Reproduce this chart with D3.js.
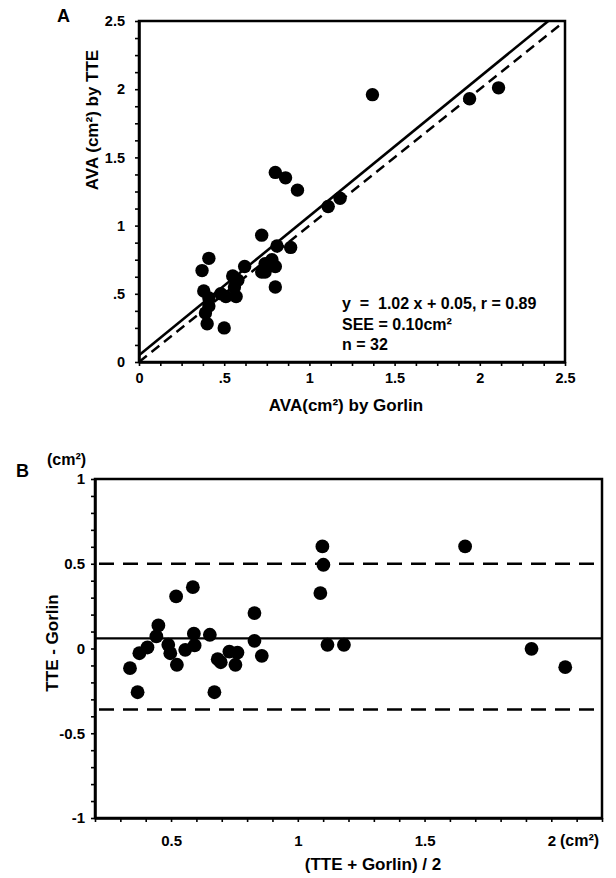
<!DOCTYPE html>
<html><head><meta charset="utf-8">
<script src="https://cdn.jsdelivr.net/npm/d3@7"></script>
<style>
body{margin:0;background:#fff}
svg{display:block}
text{font-family:"Liberation Sans",Arial,Helvetica,sans-serif;font-weight:bold;fill:#000}
</style>
</head><body>
<svg id="c" width="616" height="878"></svg>
<script>
// ---- Panel A data: AVA by Gorlin (x) vs AVA by TTE (y), cm²
const gorlinA = [0.40,0.50,0.39,0.41,0.41,0.38,0.48,0.51,0.57,0.37,0.56,0.41,0.55,0.58,0.62,0.80,0.72,0.74,0.74,0.80,0.78,0.72,0.81,0.89,0.80,0.86,0.93,1.11,1.18,1.37,1.94,2.11];
const tteA    = [0.28,0.25,0.36,0.41,0.47,0.52,0.50,0.48,0.48,0.67,0.55,0.76,0.63,0.60,0.70,0.55,0.66,0.66,0.72,0.70,0.75,0.93,0.85,0.84,1.39,1.35,1.26,1.14,1.20,1.96,1.93,2.01];
const aTickValues = [0,0.5,1,1.5,2,2.5];
const aTickLabels = ["0",".5","1","1.5","2","2.5"];
const regSlope = 1.02, regIntercept = 0.05;
const annotA = ["y  =  1.02 x + 0.05, r = 0.89","SEE = 0.10cm²","n = 32"];

// ---- Panel B data: Bland-Altman
const meanB = [0.338,0.368,0.375,0.407,0.442,0.45,0.489,0.497,0.523,0.52,0.556,0.586,0.59,0.593,0.653,0.671,0.684,0.696,0.73,0.754,0.762,0.829,0.829,0.858,1.097,1.101,1.089,1.117,1.182,1.66,1.922,2.055];
const diffB = [-0.116,-0.258,-0.028,0.006,0.071,0.136,0.022,-0.028,-0.096,0.307,-0.008,0.362,0.087,0.018,0.081,-0.258,-0.063,-0.081,-0.018,-0.096,-0.024,0.209,0.045,-0.043,0.602,0.494,0.327,0.022,0.022,0.602,-0.002,-0.11];
const bXTickValues = [0.5,1,1.5,2];
const bXTickLabels = ["0.5","1","1.5","2"];
const bYTickValues = [-1,-0.5,0,0.5,1];
const bYTickLabels = ["-1","-0.5","0","0.5","1"];
const biasB = 0.06, upperB = 0.50, lowerB = -0.36;

const svg = d3.select("#c");

function fmt(vals, labels){
  return d => { const i = vals.findIndex(v => Math.abs(v-d) < 1e-9); return i < 0 ? "" : labels[i]; };
}
function styleAxis(g, fs){
  g.select(".domain").attr("stroke","#000").attr("stroke-width",2.5);
  g.selectAll(".tick line").attr("stroke","#000").attr("stroke-width",1.6);
  g.selectAll(".tick text").attr("fill","#000").style("font-size",fs+"px").style("font-family",'"Liberation Sans",Arial,sans-serif').style("font-weight","bold");
}

// ================= Panel A =================
const xA = d3.scaleLinear().domain([0,2.5]).range([139,565]);
const yA = d3.scaleLinear().domain([0,2.5]).range([362,21]);

svg.append("rect").attr("x",xA(0)).attr("y",yA(2.5)).attr("width",xA(2.5)-xA(0)).attr("height",yA(0)-yA(2.5))
  .attr("fill","none").attr("stroke","#000").attr("stroke-width",2.5);

svg.append("g").attr("transform",`translate(0,${yA(0)})`)
  .call(d3.axisBottom(xA).tickValues(d3.range(0,2.5001,0.125)).tickFormat(fmt(aTickValues,aTickLabels)).tickSize(4).tickSizeOuter(0).tickPadding(7))
  .call(g => styleAxis(g,14.5));
svg.append("g").attr("transform",`translate(${xA(0)},0)`)
  .call(d3.axisLeft(yA).tickValues(d3.range(0,2.5001,0.125)).tickFormat(fmt(aTickValues,aTickLabels)).tickSize(4).tickSizeOuter(0).tickPadding(10))
  .call(g => styleAxis(g,14.5));

// identity (dashed) and regression (solid)
svg.append("line").attr("x1",xA(0)).attr("y1",yA(0)).attr("x2",xA(2.5)).attr("y2",yA(2.5))
  .attr("stroke","#000").attr("stroke-width",2.4).attr("stroke-dasharray","10,6");
const xEnd = (2.5 - regIntercept)/regSlope;
svg.append("line").attr("x1",xA(0)).attr("y1",yA(regIntercept)).attr("x2",xA(xEnd)).attr("y2",yA(2.5))
  .attr("stroke","#000").attr("stroke-width",2.6);

svg.append("g").selectAll("circle").data(gorlinA.map((g,i)=>[g,tteA[i]])).join("circle")
  .attr("cx",d=>xA(d[0])).attr("cy",d=>yA(d[1])).attr("r",6.7).attr("fill","#000");

svg.append("g").selectAll("text").data(annotA).join("text")
  .attr("x",342).attr("y",(d,i)=>309+i*20.5).style("font-size","16px").attr("xml:space","preserve")
  .style("white-space","pre").text(d=>d);

svg.append("text").attr("x",57).attr("y",22).style("font-size","18px").text("A");
svg.append("text").attr("x",(xA(0)+xA(2.5))/2 - 6).attr("y",411).attr("text-anchor","middle").style("font-size","17px").text("AVA(cm²) by Gorlin");
svg.append("text").attr("transform","translate(98,120) rotate(-90)").attr("text-anchor","middle").style("font-size","17px").text("AVA (cm²) by TTE");

// ================= Panel B =================
const xB = d3.scaleLinear().domain([0.2,2.2]).range([95,602]);
const yB = d3.scaleLinear().domain([-1,1]).range([818,479]);

svg.append("rect").attr("x",xB(0.2)).attr("y",yB(1)).attr("width",xB(2.2)-xB(0.2)).attr("height",yB(-1)-yB(1))
  .attr("fill","none").attr("stroke","#000").attr("stroke-width",2.5);

svg.append("g").attr("transform",`translate(0,${yB(-1)})`)
  .call(d3.axisBottom(xB).tickValues(d3.range(0.2,2.2001,0.1)).tickFormat(fmt(bXTickValues,bXTickLabels)).tickSize(4).tickSizeOuter(0).tickPadding(13))
  .call(g => styleAxis(g,15));
svg.append("g").attr("transform",`translate(${xB(0.2)},0)`)
  .call(d3.axisLeft(yB).tickValues(d3.range(-1,1.0001,0.1)).tickFormat(fmt(bYTickValues,bYTickLabels)).tickSize(4).tickSizeOuter(0).tickPadding(6))
  .call(g => styleAxis(g,15));

svg.append("line").attr("x1",xB(0.2)).attr("x2",xB(2.2)).attr("y1",yB(biasB)).attr("y2",yB(biasB))
  .attr("stroke","#000").attr("stroke-width",2.4);
[upperB,lowerB].forEach(v=>{
  svg.append("line").attr("x1",xB(0.2)).attr("x2",xB(2.2)).attr("y1",yB(v)).attr("y2",yB(v))
    .attr("stroke","#000").attr("stroke-width",2.4).attr("stroke-dasharray","15,9").attr("stroke-dashoffset",-4);
});

svg.append("g").selectAll("circle").data(meanB.map((m,i)=>[m,diffB[i]])).join("circle")
  .attr("cx",d=>xB(d[0])).attr("cy",d=>yB(d[1])).attr("r",6.9).attr("fill","#000");

svg.append("text").attr("x",16).attr("y",477).style("font-size","18px").text("B");
svg.append("text").attr("x",47).attr("y",465).style("font-size","16px").text("(cm²)");
svg.append("text").attr("x",560).attr("y",846).style("font-size","16px").text("(cm²)");
svg.append("text").attr("x",373).attr("y",870).attr("text-anchor","middle").style("font-size","17px").text("(TTE + Gorlin) / 2");
svg.append("text").attr("transform","translate(58,643) rotate(-90)").attr("text-anchor","middle").style("font-size","17px").text("TTE - Gorlin");
</script>
</body></html>
